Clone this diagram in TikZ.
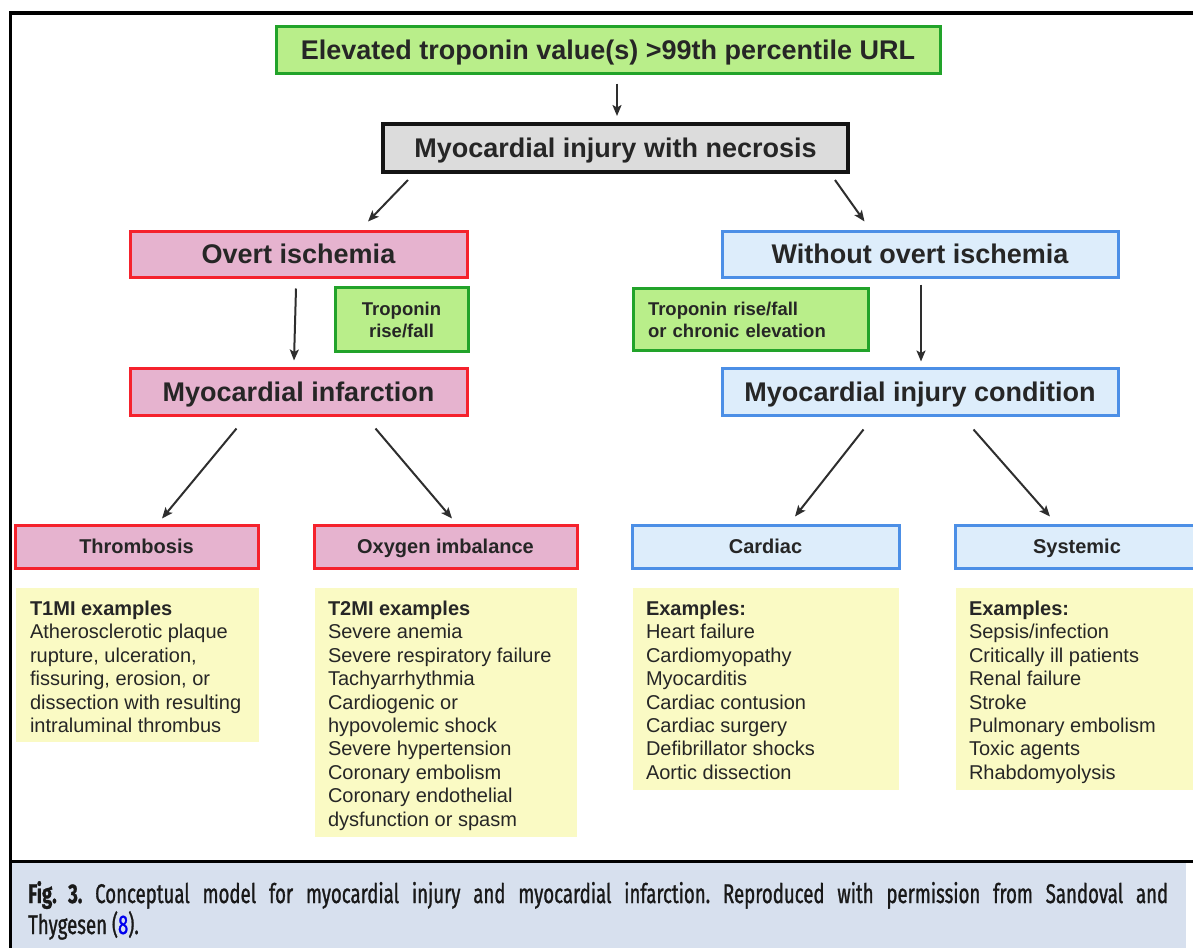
\documentclass[tikz,border=0pt]{standalone}
\usepackage{fontspec}
\setmainfont{Liberation Sans}
\newfontfamily\capfont[FakeStretch=0.69,FakeBold=1.0]{Fira Sans}
\usetikzlibrary{arrows.meta,calc}
\definecolor{gfill}{HTML}{B9EE8A}
\definecolor{gdraw}{HTML}{22A32A}
\definecolor{pfill}{HTML}{E6B3CF}
\definecolor{rdraw}{HTML}{F5222D}
\definecolor{bfill}{HTML}{DDEDFB}
\definecolor{bdraw}{HTML}{4C8FE6}
\definecolor{yfill}{HTML}{FAFAC4}
\definecolor{grfill}{HTML}{DCDCDC}
\definecolor{capfill}{HTML}{D7E0EE}
\definecolor{txt}{HTML}{262626}
\definecolor{capblue}{HTML}{0000EE}
\begin{document}
\frenchspacing
\begin{tikzpicture}[x=1pt,y=-1pt,
  box/.style={draw, line width=3pt, inner sep=0pt, text=txt, font=\bfseries\fontsize{27}{32}\selectfont, text height=19.3pt, text depth=0pt},
  greenbox/.style={box, draw=gdraw, fill=gfill},
  redbox/.style={box, draw=rdraw, fill=pfill},
  bluebox/.style={box, draw=bdraw, fill=bfill},
  smallgreen/.style={draw=gdraw, fill=gfill, line width=3pt, inner sep=0pt, text=txt, font=\bfseries\fontsize{18.5}{22}\selectfont},
  midred/.style={redbox, font=\bfseries\fontsize{20}{24}\selectfont, minimum height=43, text height=14.3pt},
  midblue/.style={bluebox, font=\bfseries\fontsize{20}{24}\selectfont, minimum height=43, text height=14.3pt},
  ybox/.style={fill=yfill, draw=none, inner sep=0pt},
  ytext/.style={anchor=north west, align=left, inner sep=0pt, text=txt, font=\fontsize{20}{23.4}\selectfont},
  arr/.style={draw=black!82, line width=2pt, -{Stealth[length=11pt,width=9pt,inset=2.5pt]}},
  captext/.style={anchor=base west, inner sep=0pt, text=black!90, font=\capfont\fontsize{27}{31}\selectfont}
]
\useasboundingbox (0,0) rectangle (1193,948);
% frame and caption
\fill[capfill] (12,863) rectangle (1186,948);
\draw[line width=3.5pt] (9,13) -- (1193,13);
\draw[line width=3pt] (10.5,11.5) -- (10.5,948);
\draw[line width=3.5pt] (9,861.5) -- (1193,861.5);

% top levels
\node[greenbox, minimum width=664, minimum height=47] (top) at (608,49.5) {Elevated troponin value(s) >99th percentile URL};
\node[box, draw=black!92, fill=grfill, line width=4pt, minimum width=465, minimum height=48] (gray) at (615.5,148) {Myocardial injury with necrosis};
\node[redbox, minimum width=337, minimum height=46] (overt) at (298.5,254) {Overt ischemia};
\node[bluebox, minimum width=396, minimum height=46] (without) at (920,254) {Without overt ischemia};
\node[smallgreen, align=center, minimum width=133, minimum height=64] (trop1) at (401.5,319) {\rule{0pt}{15pt}Troponin\\rise/fall};
\node[smallgreen, align=left, text width=205, inner xsep=15pt, minimum height=62] (trop2) at (750.5,319) {\rule{0pt}{15pt}Troponin rise/fall\\or chronic elevation};
\node[redbox, minimum width=337, minimum height=47] (mi) at (298.5,391.5) {Myocardial infarction};
\node[bluebox, minimum width=396, minimum height=47] (inj) at (920,391.5) {Myocardial injury condition};

% third level
\node[midred, minimum width=243] (thromb) at (136.5,546.5) {Thrombosis};
\node[midred, minimum width=263] (oxy) at (445.5,546.5) {Oxygen imbalance};
\node[midblue, minimum width=267] (cardiac) at (765.5,546.5) {Cardiac};
\node[midblue, minimum width=244] (systemic) at (1077,546.5) {Systemic};

% example boxes
\node[ybox, minimum width=243, minimum height=154] (t1ex) at (137.5,665) {};
\node[ybox, minimum width=262, minimum height=249] (t2ex) at (446,712.5) {};
\node[ybox, minimum width=266, minimum height=202] (cex) at (766,689) {};
\node[ybox, minimum width=243, minimum height=202] (sex) at (1077.5,689) {};

\node[ytext] (t1txt) at ($(t1ex.north west)+(14,13)$) {\textbf{T1MI examples}\\Atherosclerotic plaque\\rupture, ulceration,\\fissuring, erosion, or\\dissection with resulting\\intraluminal thrombus};
\node[ytext] (t2txt) at ($(t2ex.north west)+(13,13)$) {\textbf{T2MI examples}\\Severe anemia\\Severe respiratory failure\\Tachyarrhythmia\\Cardiogenic or\\hypovolemic shock\\Severe hypertension\\Coronary embolism\\Coronary endothelial\\dysfunction or spasm};
\node[ytext] (ctxt) at ($(cex.north west)+(13,13)$) {\textbf{Examples:}\\Heart failure\\Cardiomyopathy\\Myocarditis\\Cardiac contusion\\Cardiac surgery\\Defibrillator shocks\\Aortic dissection};
\node[ytext] (stxt) at ($(sex.north west)+(13,13)$) {\textbf{Examples:}\\Sepsis/infection\\Critically ill patients\\Renal failure\\Stroke\\Pulmonary embolism\\Toxic agents\\Rhabdomyolysis};

% arrows
\draw[arr] ($(top.south)+(9,9)$) -- ($(gray.north)+(1.5,-6)$);
\draw[arr] ($(gray.south west)+(27,6)$) -- ($(overt.north)+(69.5,-8)$);
\draw[arr] ($(gray.south east)+(-15,6)$) -- ($(without.north west)+(144,-8)$);
\draw[arr] ($(overt.south)+(-2.5,10)$) -- ($(mi.north)+(-4.5,-6)$);
\draw[arr] ($(without.south)+(1,6)$) -- ($(inj.north)+(1,-5)$);
\draw[arr] ($(mi.south west)+(108,12)$) -- ($(thromb.north)+(25.5,-5)$);
\draw[arr] ($(mi.south west)+(247,12)$) -- ($(oxy.north)+(6.5,-5)$);
\draw[arr] ($(inj.south west)+(143,13)$) -- ($(cardiac.north)+(29.5,-7)$);
\draw[arr] ($(inj.south west)+(253,13)$) -- ($(systemic.north)+(-27,-7)$);

% caption
\node[captext] (cap1) at (28,903) {\makebox[1140pt][s]{\textbf{Fig. 3.} Conceptual model for myocardial injury and myocardial infarction. Reproduced with permission from Sandoval and}};
\node[captext] (cap2) at (28,934) {Thygesen (\textcolor{capblue}{8}).};
\end{tikzpicture}
\end{document}
